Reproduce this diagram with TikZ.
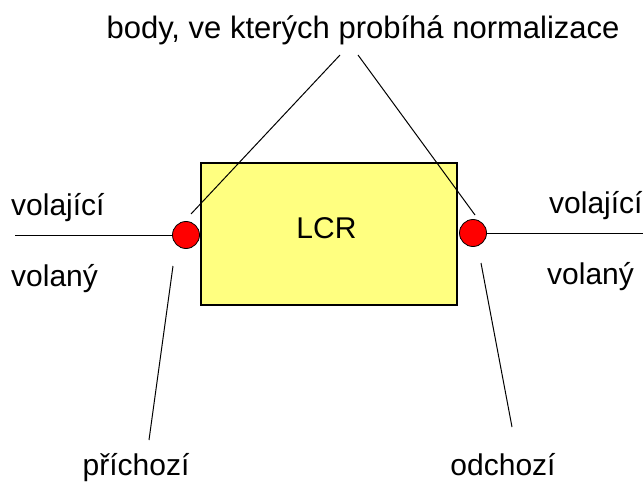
\documentclass[tikz,border=0pt]{standalone}
\usepackage{fontspec}
\setmainfont{Liberation Sans}
\definecolor{boxyellow}{RGB}{255,255,128}

\begin{document}
\begin{tikzpicture}[x=1pt,y=-1pt,
  every node/.style={font=\fontsize{30}{36}\selectfont,inner sep=0pt},
  point/.style={circle,draw,fill=red,minimum size=27pt,line width=0.8pt},
  wire/.style={line width=1pt}]
\useasboundingbox (0,0) rectangle (643,484);
\node[draw,line width=1.6pt,fill=boxyellow,minimum width=256pt,minimum height=142pt] (lcr) at (329,234) {};
\node[anchor=base] (lcrname) at (326.5,238) {LCR};
\node[anchor=base,font=\fontsize{31}{36}\selectfont] (body) at (363,39) {body, ve kterých probíhá normalizace};
\coordinate (bl) at (340,55);
\coordinate (br) at (358,55);
\coordinate (pintop) at (191,214);
\coordinate (pouttop) at (475,215);
\draw[wire] (bl)--(pintop) (br)--(pouttop);
\node[point] (pin) at (186,235) {};
\node[point] (pout) at (473,233) {};
\coordinate (lend) at (15,235);
\coordinate (rend) at (643,233);
\draw[wire] (lend)--(pin.west) (pout.east)--(rend);
\coordinate (pinlow) at (173,266);
\coordinate (inend) at (149,440);
\coordinate (poutlow) at (481,263);
\coordinate (outend) at (512,427);
\draw[wire] (pinlow)--(inend) (poutlow)--(outend);
\node[anchor=base west] (lcaller) at (11,215) {volající};
\node[anchor=base west] (lcallee) at (11,286) {volaný};
\node[anchor=base west] (rcaller) at (549,213) {volající};
\node[anchor=base west] (rcallee) at (547,284) {volaný};
\node[anchor=base] (incoming) at (136,475) {příchozí};
\node[anchor=base] (outgoing) at (503,475) {odchozí};
\end{tikzpicture}
\end{document}
